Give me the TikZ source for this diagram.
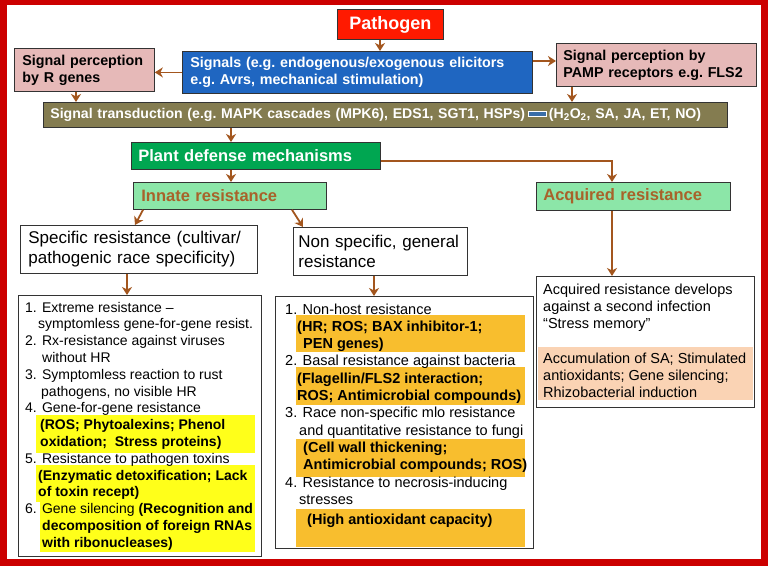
\documentclass[tikz,border=0pt]{standalone}
\usepackage{fontspec}
\setmainfont{Liberation Sans}
\usetikzlibrary{arrows.meta}
\definecolor{framered}{HTML}{CC0000}
\definecolor{pathred}{HTML}{FF1A00}
\definecolor{sigblue}{HTML}{1F66C1}
\definecolor{dashblue}{HTML}{3A6EA8}
\definecolor{pinkbox}{HTML}{E6B9B8}
\definecolor{olivebox}{HTML}{847C50}
\definecolor{defgreen}{HTML}{00A651}
\definecolor{lightgreen}{HTML}{8CE6A8}
\definecolor{arrbrown}{HTML}{A3561E}
\definecolor{txtbrown}{HTML}{A8622A}
\definecolor{hlyellow}{HTML}{FFFF1A}
\definecolor{hlorange}{HTML}{F8BE2E}
\definecolor{peach}{HTML}{FAD3B4}
\newcommand\myB{\fontsize{14.3}{17}\selectfont\bfseries}
\newcommand\myH{\fontsize{16.5}{19}\selectfont\bfseries}
\newcommand\myS{\fontsize{17}{20}\selectfont}
\newcommand\putline[4]{\node[tln] (#1) at (#2,#3) {#4};}
\newcommand\tdash{{\setlength{\fboxsep}{0pt}\setlength{\fboxrule}{1pt}\raisebox{3pt}{\fcolorbox{white}{dashblue}{\rule{0pt}{3.5pt}\hspace{17pt}}}}}
\tikzset{
  bx/.style={draw=black!80, line width=0.8pt, anchor=north west, inner ysep=0pt, align=left},
  tln/.style={anchor=base west, inner sep=0pt},
  arr/.style={draw=arrbrown, line width=1.8pt, -{Stealth[length=8pt, width=10pt, inset=2.5pt]}}
}
\begin{document}
\begin{tikzpicture}[x=1pt,y=-1pt]
\useasboundingbox (0,0) rectangle (768,566);
\fill[framered] (0,0) rectangle (768,566);
\fill[white] (7,5) rectangle (761,559);

% top boxes
\node[bx, fill=pathred, text=white, minimum width=106pt, minimum height=30pt, inner xsep=0pt, align=center, font=\fontsize{18}{20}\selectfont\bfseries] (pathogen) at (337,9) {Pathogen};
\node[bx, fill=sigblue, text=white, font=\myB, minimum height=42pt, text width=334pt, inner xsep=8pt] (signals) at (182,51) {Signals (e.g.\ endogenous/exogenous elicitors\\e.g.\ Avrs, mechanical stimulation)};
\node[bx, fill=pinkbox, font=\myB, minimum height=43pt, text width=124pt, inner xsep=8pt] (rgenes) at (14,48) {Signal perception\\by R genes};
\node[bx, fill=pinkbox, font=\myB, minimum height=43pt, text width=186pt, inner xsep=7pt] (pamp) at (556,43) {Signal perception by\\PAMP receptors e.g.\ FLS2};
\node[bx, fill=olivebox, text=white, font=\fontsize{14.1}{17}\selectfont\bfseries, minimum height=25pt, text width=670pt, inner xsep=7pt] (trans) at (43,102) {Signal transduction (e.g.\ MAPK cascades (MPK6), EDS1, SGT1, HSPs)\,\tdash\,(H\textsubscript{2}O\textsubscript{2}, SA, JA, ET, NO)};
\node[bx, fill=defgreen, text=white, font=\myH, minimum height=27pt, text width=235pt, inner xsep=7pt] (plant) at (131,142) {Plant defense mechanisms};
\node[bx, fill=lightgreen, text=txtbrown, font=\myH, minimum height=27pt, text width=177pt, inner xsep=8pt] (innate) at (133,182) {Innate resistance};
\node[bx, fill=lightgreen, text=txtbrown, font=\myH, minimum height=28pt, text width=180pt, inner xsep=7pt] (acq) at (536,182) {Acquired resistance};
\node[bx, fill=white, font=\myS, minimum height=48pt, text width=221pt, inner xsep=8pt] (spec) at (20,225) {Specific resistance (cultivar/\\pathogenic race specificity)};
\node[bx, fill=white, font=\myS, minimum height=48pt, text width=164pt, inner xsep=5pt] (nonspec) at (293,227) {Non specific, general\\resistance};

% list boxes
\node[bx, fill=white, minimum width=243pt, minimum height=261pt, inner sep=0pt] (leftlist) at (18,295) {};
\node[bx, fill=white, minimum width=258pt, minimum height=252pt, inner sep=0pt] (midlist) at (275,296) {};
\node[bx, fill=white, minimum width=218pt, minimum height=131pt, inner sep=0pt] (rightbox) at (536,276) {};

% highlights
\fill[hlyellow] (36,415) rectangle (255,453);
\fill[hlyellow] (36,465) rectangle (255,502);
\fill[hlyellow] (40,502) rectangle (255,552);
\fill[hlorange] (296,315) rectangle (525,352);
\fill[hlorange] (296,367) rectangle (525,405);
\fill[hlorange] (296,439) rectangle (525,477);
\fill[hlorange] (296,509) rectangle (525,547);
\fill[peach] (538,347) rectangle (753,400);

% left list text
\begin{scope}[font=\fontsize{14}{16.8}\selectfont]
\putline{l1}{25}{312}{1. Extreme resistance –}
\putline{l2}{38}{328.8}{symptomless gene-for-gene resist.}
\putline{l3}{25}{345.6}{2. Rx-resistance against viruses}
\putline{l4}{42}{362.4}{without HR}
\putline{l5}{25}{379.2}{3. Symptomless reaction to rust}
\putline{l6}{41}{396}{pathogens, no visible HR}
\putline{l7}{25}{412.8}{4. Gene-for-gene resistance}
\putline{l8}{40}{429.6}{\bfseries (ROS; Phytoalexins; Phenol}
\putline{l9}{40}{446.4}{\bfseries oxidation;\ \ Stress proteins)}
\putline{l10}{25}{463.2}{5. Resistance to pathogen toxins}
\putline{l11}{38}{480}{\bfseries (Enzymatic detoxification; Lack}
\putline{l12}{38}{496.8}{\bfseries of toxin recept)}
\putline{l13}{25}{513.6}{6. Gene silencing {\bfseries (Recognition and}}
\putline{l14}{42}{530.4}{\bfseries decomposition of foreign RNAs}
\putline{l15}{42}{547.2}{\bfseries with ribonucleases)}
\end{scope}

% middle list text
\begin{scope}[font=\fontsize{14.5}{17.3}\selectfont]
\putline{m1}{285}{314}{1. Non-host resistance}
\putline{m2}{297}{331.3}{\bfseries (HR; ROS; BAX inhibitor-1;}
\putline{m3}{303}{348.6}{\bfseries PEN genes)}
\putline{m4}{285}{365.9}{2. Basal resistance against bacteria}
\putline{m5}{297}{383.2}{\bfseries (Flagellin/FLS2 interaction;}
\putline{m6}{297}{400.5}{\bfseries ROS; Antimicrobial compounds)}
\putline{m7}{285}{417.8}{3. Race non-specific mlo resistance}
\putline{m8}{299}{435.1}{and quantitative resistance to fungi}
\putline{m9}{303}{452.4}{\bfseries (Cell wall thickening;}
\putline{m10}{303}{469.7}{\bfseries Antimicrobial compounds; ROS)}
\putline{m11}{285}{487}{4. Resistance to necrosis-inducing}
\putline{m12}{299}{504.3}{stresses}
\putline{m13}{307}{524}{\bfseries (High antioxidant capacity)}
\end{scope}

% right box text
\begin{scope}[font=\fontsize{14.5}{17}\selectfont]
\putline{r1}{543}{294}{Acquired resistance develops}
\putline{r2}{543}{311}{against a second infection}
\putline{r3}{543}{328}{“Stress memory”}
\putline{r4}{543}{363.5}{Accumulation of SA; Stimulated}
\putline{r5}{543}{380.5}{antioxidants; Gene silencing;}
\putline{r6}{543}{397.5}{Rhizobacterial induction}
\end{scope}

% helper coordinates
\coordinate (X76) at (76,0);
\coordinate (X127) at (127,0);
\coordinate (X135) at (135,0);
\coordinate (X143) at (143,0);
\coordinate (X231) at (231,0);
\coordinate (X292) at (292,0);
\coordinate (X303) at (303,0);
\coordinate (X374) at (374,0);
\coordinate (X380) at (380,0);
\coordinate (X572) at (572,0);
\coordinate (X612) at (612,0);
\coordinate (Y61) at (0,61);
\coordinate (Y161) at (0,161);

% connectors
\draw[arr] (pathogen.south -| X380) -- (signals.north -| X380);
\draw[arr] (signals.west) -- (signals.west -| rgenes.east);
\draw[arr] (signals.east |- Y61) -- (pamp.west |- Y61);
\draw[arr] (rgenes.south -| X76) -- (trans.north -| X76);
\draw[arr] (pamp.south -| X572) -- (trans.north -| X572);
\draw[arr] (trans.south -| X231) -- (plant.north -| X231);
\draw[arr] (plant.east |- Y161) -| (acq.north -| X612);
\draw[arr] (plant.south -| X231) -- (innate.north -| X231);
\draw[arr] (innate.south -| X143) -- (spec.north -| X135);
\draw[arr] (innate.south -| X292) -- (nonspec.north -| X303);
\draw[arr] (spec.south -| X127) -- (leftlist.north -| X127);
\draw[arr] (nonspec.south -| X374) -- (midlist.north -| X374);
\draw[arr] (acq.south -| X612) -- (rightbox.north -| X612);
\end{tikzpicture}
\end{document}
